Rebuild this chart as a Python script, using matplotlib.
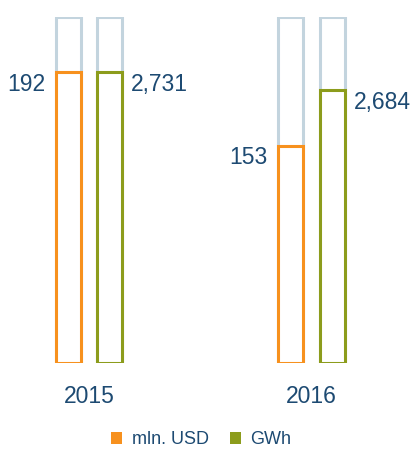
import matplotlib.pyplot as plt
from matplotlib.patches import Patch

### Chart data
years = ['2015', '2016']
usd_values = [192, 153]
gwh_values = [2731, 2684]
usd_labels = ['192', '153']
gwh_labels = ['2,731', '2,684']
series_names = ['mln. USD', 'GWh']

### Styles
c_usd = '#F7911E'
c_gwh = '#8C9C1C'
c_back = '#C3D4DE'
c_text = '#1D4A72'
usd_lim = (37.1, 221.9)
gwh_lim = (1973.8, 2877.0)
off = 0.094
w = 0.112
lw = 2.2

plt.rcParams['font.family'] = ['Liberation Sans', 'DejaVu Sans']

fig = plt.figure(figsize=(4.15, 4.51), dpi=100)
ax1 = fig.add_axes([0, 0.1962, 1, 0.7672])
ax2 = ax1.twinx()

x = list(range(len(years)))
x_usd = [i - off for i in x]
x_gwh = [i + off for i in x]

### Background full-height bars
ax1.bar(x_usd, usd_lim[1] - usd_lim[0], bottom=usd_lim[0], width=w,
        facecolor='none', edgecolor=c_back, linewidth=lw, zorder=1)
ax2.bar(x_gwh, gwh_lim[1] - gwh_lim[0], bottom=gwh_lim[0], width=w,
        facecolor='none', edgecolor=c_back, linewidth=lw, zorder=1)

### Value bars
ax1.bar(x_usd, [v - usd_lim[0] for v in usd_values], bottom=usd_lim[0], width=w,
        facecolor='white', edgecolor=c_usd, linewidth=lw, zorder=2)
ax2.bar(x_gwh, [v - gwh_lim[0] for v in gwh_values], bottom=gwh_lim[0], width=w,
        facecolor='white', edgecolor=c_gwh, linewidth=lw, zorder=2)

for ax, lim in [(ax1, usd_lim), (ax2, gwh_lim)]:
    ax.set_xlim(-0.3996, 1.4635)
    ax.set_ylim(lim)
    ax.axis('off')

### Value labels
for i in x:
    ax1.annotate(usd_labels[i], xy=(x_usd[i] - w / 2, usd_values[i]),
                 xytext=(-7.5, -13.5), textcoords='offset points',
                 ha='right', va='baseline', fontsize=16.5, color=c_text)
    ax2.annotate(gwh_labels[i], xy=(x_gwh[i] + w / 2, gwh_values[i]),
                 xytext=(6, -13.5), textcoords='offset points',
                 ha='left', va='baseline', fontsize=16.5, color=c_text)
    ax1.annotate(years[i], xy=(i, 0), xycoords=ax1.get_xaxis_transform(),
                 xytext=(0, -29), textcoords='offset points',
                 ha='center', va='baseline', fontsize=16.5, color=c_text)

### Legend
handles = [Patch(facecolor=c_usd, edgecolor='none'),
           Patch(facecolor=c_gwh, edgecolor='none')]
fig.legend(handles, series_names, loc='lower center', bbox_to_anchor=(0.485, 0.006),
           ncol=2, frameon=False, fontsize=13, labelcolor=c_text,
           handlelength=0.61, handleheight=0.61, handletextpad=0.52,
           columnspacing=1.17, borderpad=0, borderaxespad=0)

fig.savefig('out.png', dpi=100)
